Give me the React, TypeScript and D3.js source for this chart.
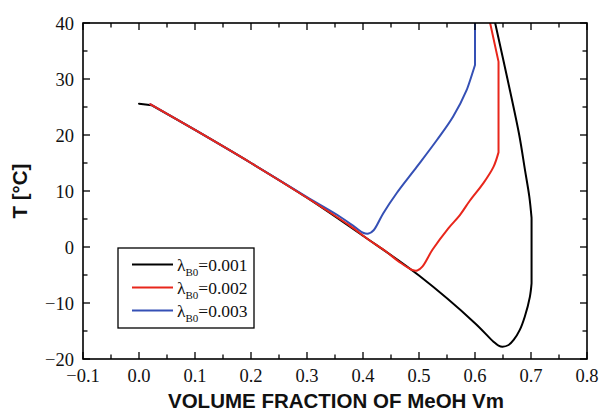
import React from "react";
import * as d3 from "d3";

// Liquidus curves T vs volume fraction of MeOH for three λ_B0 values
const blackV = [0.0, 0.023, 0.1, 0.2, 0.3, 0.4, 0.5, 0.6, 0.633, 0.642, 0.649, 0.66, 0.669, 0.68, 0.689, 0.698, 0.701, 0.701, 0.697, 0.689, 0.679, 0.658, 0.636];
const blackT = [25.6, 25.3, 20.9, 15.0, 8.8, 2.0, -5.1, -13.6, -16.9, -17.6, -17.8, -17.5, -16.6, -14.8, -12.4, -8.9, -6.5, 5.2, 9.0, 13.9, 20, 30.0, 40];
const blackCorners = [1, 16, 17];

const redV = [0.02, 0.1, 0.2, 0.3, 0.375, 0.41, 0.441, 0.464, 0.488, 0.497, 0.506, 0.524, 0.552, 0.573, 0.591, 0.615, 0.633, 0.642, 0.642, 0.627];
const redT = [25.5, 20.9, 15.0, 8.8, 3.9, 1.3, -0.8, -2.6, -4.1, -4.2, -3.5, -0.5, 3.3, 5.7, 8.3, 11.4, 14.3, 16.9, 33.1, 40];
const redCorners = [17, 18];

const blueV = [0.02, 0.1, 0.2, 0.3, 0.359, 0.385, 0.4, 0.41, 0.419, 0.436, 0.46, 0.496, 0.532, 0.561, 0.585, 0.6, 0.6];
const blueT = [25.5, 20.9, 15.0, 8.9, 5.4, 3.6, 2.55, 2.4, 3.0, 6.0, 9.6, 14.3, 19.1, 23.3, 28.0, 32.5, 40];
const blueCorners = [15];

const seriesNames = ["0.001", "0.002", "0.003"];
const seriesColors = ["#000000", "#e8261b", "#3550b5"];

const xTicks = [-0.1, 0, 0.1, 0.2, 0.3, 0.4, 0.5, 0.6, 0.7, 0.8];
const xTickLabels = ["\u22120.1", "0.0", "0.1", "0.2", "0.3", "0.4", "0.5", "0.6", "0.7", "0.8"];
const yTicks = [-20, -10, 0, 10, 20, 30, 40];
const yTickLabels = ["\u221220", "\u221210", "0", "10", "20", "30", "40"];

const W = 601;
const H = 413;
const left = 83, right = 587, top = 23, bottom = 359;

type Pt = [number, number];

// split a polyline at its corner vertices so each smooth piece is splined separately
function splitAt(pts: Pt[], corners: number[]): Pt[][] {
  const out: Pt[][] = [];
  let start = 0;
  for (const c of corners) {
    out.push(pts.slice(start, c + 1));
    start = c;
  }
  out.push(pts.slice(start));
  return out;
}

const tickFont = { fontFamily: "Liberation Serif", fontSize: "18.5px" };
const legendFont = { fontFamily: "Liberation Serif", fontSize: "17.5px" };
const titleFont = { fontFamily: "Liberation Sans", fontWeight: "bold" as const, fontSize: "20.5px" };

export default function App() {
  const x = d3.scaleLinear().domain([-0.1, 0.8]).range([left, right]);
  const y = d3.scaleLinear().domain([-20, 40]).range([bottom, top]);

  const line = d3
    .line<Pt>()
    .x((d) => x(d[0]))
    .y((d) => y(d[1]))
    .curve(d3.curveCatmullRom.alpha(0.5));

  const zip = (a: number[], b: number[]) => a.map((v, i) => [v, b[i]] as Pt);
  const series = [
    { name: seriesNames[0], color: seriesColors[0], pieces: splitAt(zip(blackV, blackT), blackCorners) },
    { name: seriesNames[1], color: seriesColors[1], pieces: splitAt(zip(redV, redT), redCorners) },
    { name: seriesNames[2], color: seriesColors[2], pieces: splitAt(zip(blueV, blueT), blueCorners) },
  ];
  // draw order: black, blue, red on top
  const drawOrder = [0, 2, 1];

  const xMinor = d3.range(-0.05, 0.8, 0.1);
  const yMinor = d3.range(-15, 40, 10);

  const legX = 118, legY = 248, legW = 136, legH = 80;
  const rowY = [264.5, 287.5, 310.5];

  return (
    <svg width={W} height={H} style={{ position: "absolute", left: 0, top: 0, background: "#fff" }}>
      <rect x={0} y={0} width={W} height={H} fill="#fff" />
      <defs>
        <clipPath id="plotArea">
          <rect x={left} y={top} width={right - left} height={bottom - top} />
        </clipPath>
      </defs>

      {/* curves */}
      <g clipPath="url(#plotArea)" fill="none" strokeWidth={2} strokeLinejoin="round" strokeLinecap="round">
        {drawOrder.map((i) => (
          <path
            key={i}
            d={series[i].pieces.map((p) => line(p) || "").join("")}
            stroke={series[i].color}
          />
        ))}
      </g>

      {/* ticks on all four sides, pointing inward */}
      <g stroke="#000" strokeWidth={1.3}>
        {xTicks.map((t) => (
          <g key={"xt" + t}>
            <line x1={x(t)} x2={x(t)} y1={bottom} y2={bottom - 7} />
            <line x1={x(t)} x2={x(t)} y1={top} y2={top + 7} />
          </g>
        ))}
        {xMinor.map((t) => (
          <g key={"xm" + t}>
            <line x1={x(t)} x2={x(t)} y1={bottom} y2={bottom - 4.5} />
            <line x1={x(t)} x2={x(t)} y1={top} y2={top + 4.5} />
          </g>
        ))}
        {yTicks.map((t) => (
          <g key={"yt" + t}>
            <line x1={left} x2={left + 7} y1={y(t)} y2={y(t)} />
            <line x1={right} x2={right - 7} y1={y(t)} y2={y(t)} />
          </g>
        ))}
        {yMinor.map((t) => (
          <g key={"ym" + t}>
            <line x1={left} x2={left + 4.5} y1={y(t)} y2={y(t)} />
            <line x1={right} x2={right - 4.5} y1={y(t)} y2={y(t)} />
          </g>
        ))}
      </g>

      {/* frame */}
      <rect x={left} y={top} width={right - left} height={bottom - top} fill="none" stroke="#000" strokeWidth={1.6} />

      {/* tick labels */}
      {xTicks.map((t, i) => (
        <text key={"xl" + t} x={x(t)} y={381.5} textAnchor="middle" style={tickFont} fill="#111">
          {xTickLabels[i]}
        </text>
      ))}
      {yTicks.map((t, i) => (
        <text key={"yl" + t} x={74} y={y(t) + 6.5} textAnchor="end" style={tickFont} fill="#111">
          {yTickLabels[i]}
        </text>
      ))}

      {/* axis titles */}
      <text x={336} y={408} textAnchor="middle" style={titleFont} fill="#111">
        VOLUME FRACTION OF MeOH Vm
      </text>
      <text
        transform={`translate(27,${(top + bottom) / 2}) rotate(-90)`}
        textAnchor="middle"
        style={titleFont}
        fill="#111"
      >
        T [°C]
      </text>

      {/* legend */}
      <rect x={legX} y={legY} width={legW} height={legH} fill="#fff" stroke="#000" strokeWidth={1.3} />
      {series.map((s, i) => (
        <g key={"lg" + i}>
          <line x1={132} x2={173} y1={rowY[i]} y2={rowY[i]} stroke={s.color} strokeWidth={2} />
          <text x={177} y={rowY[i] + 6.5} style={legendFont} fill="#111">
            <tspan>λ</tspan>
            <tspan style={{ fontSize: "11px" }} dy={5}>B0</tspan>
            <tspan dy={-5}>={s.name}</tspan>
          </text>
        </g>
      ))}
    </svg>
  );
}
